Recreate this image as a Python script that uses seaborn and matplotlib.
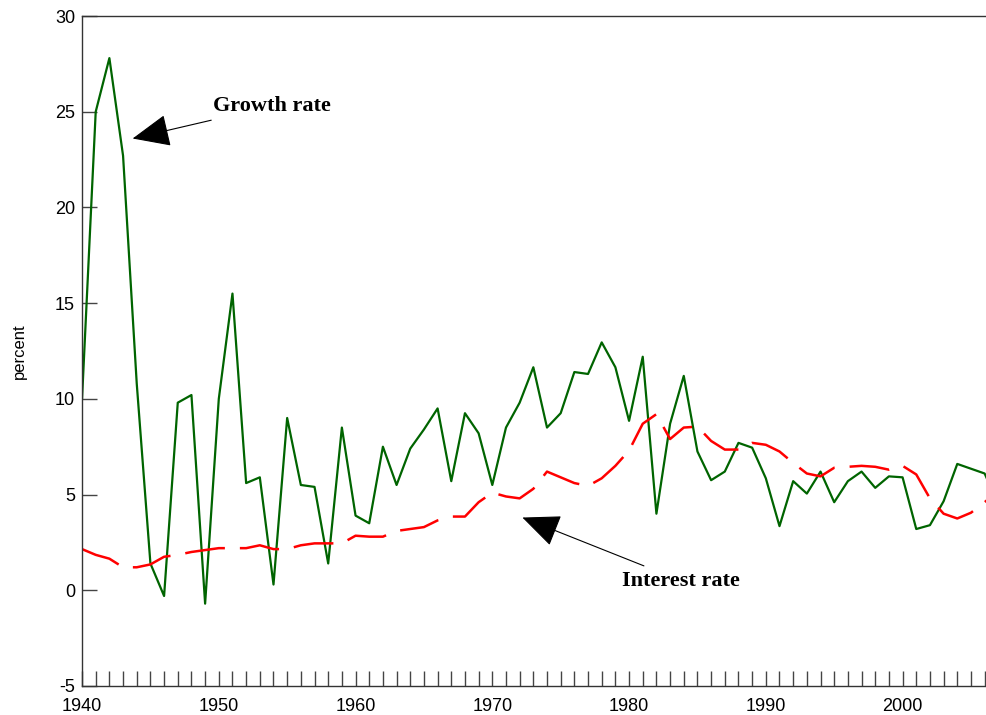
import pandas as pd
import matplotlib
matplotlib.use("Agg")
import matplotlib.pyplot as plt
import seaborn as sns

# anos e series
anos = list(range(1940, 2008))
crescimento = [10.0, 25.0, 27.8, 22.7, 10.8, 1.4, -0.3, 9.8, 10.2, -0.7,
               10.0, 15.5, 5.6, 5.9, 0.3, 9.0, 5.5, 5.4, 1.4, 8.5,
               3.9, 3.5, 7.5, 5.5, 7.4, 8.4, 9.5, 5.7, 9.25, 8.2,
               5.5, 8.5, 9.8, 11.65, 8.5, 9.25, 11.4, 11.3, 12.95, 11.65,
               8.85, 12.2, 4.0, 8.7, 11.2, 7.25, 5.75, 6.2, 7.7, 7.45,
               5.85, 3.35, 5.7, 5.05, 6.2, 4.6, 5.7, 6.2, 5.35, 5.95,
               5.9, 3.2, 3.4, 4.65, 6.6, 6.35, 6.1, 4.5]
juros = [2.15, 1.85, 1.65, 1.2, 1.2, 1.35, 1.75, 1.85, 2.0, 2.1,
         2.2, 2.2, 2.2, 2.35, 2.15, 2.15, 2.35, 2.45, 2.45, 2.45,
         2.85, 2.8, 2.8, 3.1, 3.2, 3.3, 3.65, 3.85, 3.85, 4.6,
         5.1, 4.9, 4.8, 5.3, 6.2, 5.9, 5.6, 5.45, 5.85, 6.5,
         7.3, 8.7, 9.2, 7.9, 8.5, 8.55, 7.8, 7.35, 7.35, 7.7,
         7.6, 7.25, 6.65, 6.1, 5.95, 6.4, 6.45, 6.5, 6.45, 6.3,
         6.5, 6.05, 4.8, 4.0, 3.75, 4.05, 4.6, 5.2]

df = pd.DataFrame({"ano": anos, "crescimento": crescimento, "juros": juros})

sns.set_style("ticks")
plt.rcParams['font.family'] = ['Liberation Sans', 'DejaVu Sans']
plt.rcParams['axes.unicode_minus'] = False
plt.rcParams['text.color'] = 'black'

fig = plt.figure(figsize=(9.86, 7.15), dpi=100)
ax = fig.add_axes([0.0832, 0.0406, 0.9168, 0.937])

sns.lineplot(data=df, x="ano", y="crescimento", ax=ax, color="#006400", linewidth=1.6)
sns.lineplot(data=df, x="ano", y="juros", ax=ax, color="#ff0000", linewidth=1.8,
             dashes=False)
ax.lines[-1].set_dashes((16, 6))

ax.set_xlim(1940, 2006.1)
ax.set_ylim(-5, 30)
ax.set_xticks(range(1940, 2001, 10))
ax.set_xticks(range(1941, 2007), minor=True)
ax.set_yticks(range(-5, 31, 5))
ax.tick_params(axis="both", which="major", direction="in", length=11, width=1,
               labelsize=13, color="#444444", labelcolor="black")
ax.tick_params(axis="x", which="minor", direction="in", length=11, width=1, color="#444444")
ax.tick_params(axis="x", which="major", pad=9)
ax.tick_params(axis="y", pad=5)
ax.set_xlabel("")
ax.set_ylabel("percent", fontsize=12, labelpad=20, color="black")
ax.spines["right"].set_visible(False)
for s in ["left", "top", "bottom"]:
    ax.spines[s].set_color("#333333")
    ax.spines[s].set_linewidth(1)

# anotacoes
fonte = dict(family="Liberation Serif", weight="bold", fontsize=16, color="black")
seta = dict(arrowstyle="-|>,head_length=1.5,head_width=0.65",
            color="black", lw=0.8, shrinkB=0, shrinkA=3)
ax.annotate("Growth rate", xy=(1943.7, 23.6), xytext=(1949.6, 25.3),
            va="center", ha="left", arrowprops=seta, **fonte)
ax.annotate("Interest rate", xy=(1972.2, 3.8), xytext=(1979.5, 0.5),
            va="center", ha="left", arrowprops=seta, **fonte)

plt.savefig("out.png", dpi=100)
